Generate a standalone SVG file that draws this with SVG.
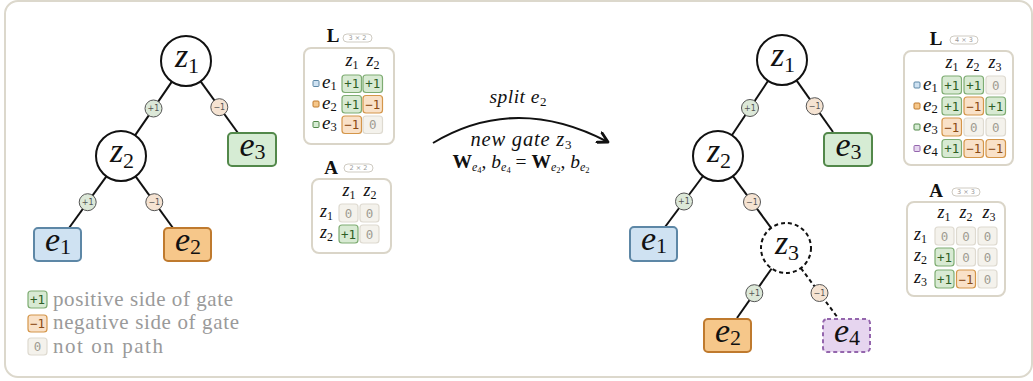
<svg xmlns="http://www.w3.org/2000/svg" width="1033" height="381" viewBox="0 0 1033 381">
  <defs>
    <style>
      .frame { fill:#fff; stroke:#dcd8cc; stroke-width:2; }
      .edge { stroke:#111; stroke-width:2; fill:none; }
      .dash { stroke-dasharray:4 3; }
      .gate { fill:#fff; stroke:#111; stroke-width:2; }
      .gate.new { stroke-dasharray:4 3; }
      .leaf { stroke-width:2; }
      .e1 { fill:#cfe2f2; stroke:#5d87a6; }
      .e2 { fill:#f6c78a; stroke:#bf7a2e; }
      .e3 { fill:#d6ecd4; stroke:#52884a; }
      .e4 { fill:#e6d5ef; stroke:#9466ad; stroke-dasharray:4 3; }
      .math { font-style:italic; fill:#111; }
      .up { font-style:normal; }
      .bold { font-weight:bold; fill:#111; }
      .nodelbl { font-size:34px; }
      .sub { font-size:22px; font-style:normal; }
      .badge { stroke-width:1; }
      .bp { fill:#dce8d8; stroke:#555; }
      .bn { fill:#f5e3d2; stroke:#555; }
      .btxt { font-size:8px; fill:#555; text-anchor:middle; }
      .mbox { fill:#fff; stroke:#dad5c8; stroke-width:2; }
      .pill { fill:#fff; stroke:#cfcbc2; stroke-width:1; }
      .ptxt { font-size:6.5px; fill:#999; text-anchor:middle; }
      .cp { fill:#d8ead3; stroke:#7eac72; stroke-width:1.2; }
      .cn { fill:#f9e1c8; stroke:#d4964a; stroke-width:1.2; }
      .cz { fill:#f4f2ec; stroke:#dedad0; stroke-width:1.2; }
      .ct { font-size:12.5px; text-anchor:middle; }
      .tp { fill:#2e5e25; }
      .tn { fill:#8a4a14; }
      .tz { fill:#a09c92; }
      .hdr { font-size:18px; }
      .hsub { font-size:12px; font-style:normal; }
      .rlbl { font-size:19px; }
      .rsub { font-size:12.5px; font-style:normal; }
      .mk { stroke-width:1; }
      .legend { font-size:21px; fill:#9a9a9a; }
      .cap { font-size:19.5px; }
    </style>
    <marker id="chev" viewBox="0 0 12 12" refX="10" refY="6" markerWidth="13" markerHeight="13" markerUnits="userSpaceOnUse" orient="auto">
      <path d="M1,1 L10,6 L1,11" fill="none" stroke="#111" stroke-width="2.6" stroke-linecap="round" stroke-linejoin="round"/>
    </marker>
  </defs>

  <rect class="frame" x="5" y="1" width="1027" height="376" rx="13"/>

  <!-- connectors -->
  <g id="connectors">
    <!-- tree before the split -->
    <line class="edge" x1="171.9" y1="81.6" x2="135.1" y2="135.4"/>
    <line class="edge" x1="200.6" y1="81.3" x2="238" y2="133"/>
    <line class="edge" x1="106.4" y1="176.3" x2="69" y2="228"/>
    <line class="edge" x1="135.6" y1="176.3" x2="173" y2="228"/>
    <!-- tree after the split -->
    <line class="edge" x1="768.1" y1="80.8" x2="731.9" y2="135.2"/>
    <line class="edge" x1="796.5" y1="80.4" x2="833" y2="132"/>
    <line class="edge" x1="703" y1="176" x2="665" y2="227"/>
    <line class="edge" x1="732.9" y1="176.1" x2="771.1" y2="227.9"/>
    <line class="edge" x1="771.7" y1="268.5" x2="737" y2="318"/>
    <line class="edge dash" x1="800.9" y1="268.1" x2="838" y2="318"/>
    <!-- split arrow -->
    <path class="edge" d="M433,143 Q515.5,93.5 608,142" stroke-width="3" marker-end="url(#chev)"/>

    <!-- edge side badges -->
    <g class="badges" font-family="DejaVu Sans, sans-serif">
      <circle class="badge bp" cx="153.5" cy="108.5" r="8.5"/><text class="btxt" x="153.5" y="111.3">+1</text>
      <circle class="badge bn" cx="219.3" cy="107.2" r="8.5"/><text class="btxt" x="219.3" y="110">−1</text>
      <circle class="badge bp" cx="87.7" cy="202.2" r="8.5"/><text class="btxt" x="87.7" y="205">+1</text>
      <circle class="badge bn" cx="154.3" cy="202.2" r="8.5"/><text class="btxt" x="154.3" y="205">−1</text>

      <circle class="badge bp" cx="750" cy="108" r="8.5"/><text class="btxt" x="750" y="110.8">+1</text>
      <circle class="badge bn" cx="814.7" cy="106.2" r="8.5"/><text class="btxt" x="814.7" y="109">−1</text>
      <circle class="badge bp" cx="684" cy="201.5" r="8.5"/><text class="btxt" x="684" y="204.3">+1</text>
      <circle class="badge bn" cx="752" cy="202" r="8.5"/><text class="btxt" x="752" y="204.8">−1</text>
      <circle class="badge bp" cx="754.3" cy="293.2" r="8.5"/><text class="btxt" x="754.3" y="296">+1</text>
      <circle class="badge bn" cx="819.5" cy="293" r="8.5"/><text class="btxt" x="819.5" y="295.8">−1</text>
    </g>
  </g>

  <!-- split caption -->
  <g id="split-caption" class="math cap" text-anchor="middle" font-family="Liberation Serif, DejaVu Serif, serif">
    <text x="518" y="103" textLength="57">split e<tspan class="up" font-size="13" dy="3">2</tspan></text>
    <text x="521" y="146" font-size="20.5" textLength="101">new gate z<tspan class="up" font-size="13" dy="2.5">3</tspan></text>
    <text x="521" y="168"><tspan class="up" font-weight="bold">W</tspan><tspan font-size="12" dy="3">e</tspan><tspan font-size="8.5" class="up" dy="1.5">4</tspan><tspan class="up" dy="-4.5">, </tspan>b<tspan font-size="12" dy="3">e</tspan><tspan font-size="8.5" class="up" dy="1.5">4</tspan><tspan class="up" dy="-4.5"> = </tspan><tspan class="up" font-weight="bold">W</tspan><tspan font-size="12" dy="3">e</tspan><tspan font-size="8.5" class="up" dy="1.5">2</tspan><tspan class="up" dy="-4.5">, </tspan>b<tspan font-size="12" dy="3">e</tspan><tspan font-size="8.5" class="up" dy="1.5">2</tspan></text>
  </g>

  <g font-family="Liberation Serif, DejaVu Serif, serif">
  <!-- ===== tree before the split ===== -->
  <g id="a-z1"><circle class="gate" cx="186" cy="61" r="25"/><text class="math nodelbl" x="187" y="67" text-anchor="middle">z<tspan class="sub" dy="6">1</tspan></text></g>
  <g id="a-z2"><circle class="gate" cx="121" cy="156" r="25"/><text class="math nodelbl" x="122" y="162" text-anchor="middle">z<tspan class="sub" dy="6">2</tspan></text></g>
  <g id="a-e1"><rect class="leaf e1" x="34" y="228" width="47" height="33" rx="4"/><text class="math nodelbl" x="58" y="251" text-anchor="middle">e<tspan class="sub" dy="3">1</tspan></text></g>
  <g id="a-e2"><rect class="leaf e2" x="164" y="228" width="47" height="33" rx="4"/><text class="math nodelbl" x="188" y="251" text-anchor="middle">e<tspan class="sub" dy="3">2</tspan></text></g>
  <g id="a-e3"><rect class="leaf e3" x="228" y="133" width="48" height="33" rx="4"/><text class="math nodelbl" x="252.5" y="156" text-anchor="middle">e<tspan class="sub" dy="3">3</tspan></text></g>

  <!-- ===== tree after the split ===== -->
  <g id="b-z1"><circle class="gate" cx="782" cy="60" r="25"/><text class="math nodelbl" x="783" y="66" text-anchor="middle">z<tspan class="sub" dy="6">1</tspan></text></g>
  <g id="b-z2"><circle class="gate" cx="718" cy="156" r="25"/><text class="math nodelbl" x="719" y="162" text-anchor="middle">z<tspan class="sub" dy="6">2</tspan></text></g>
  <g id="b-z3"><circle class="gate new" cx="786" cy="248" r="25"/><text class="math nodelbl" x="787" y="254" text-anchor="middle">z<tspan class="sub" dy="6">3</tspan></text></g>
  <g id="b-e1"><rect class="leaf e1" x="630" y="227" width="47" height="34" rx="4"/><text class="math nodelbl" x="654" y="250" text-anchor="middle">e<tspan class="sub" dy="3">1</tspan></text></g>
  <g id="b-e2"><rect class="leaf e2" x="704" y="319" width="47" height="33" rx="4"/><text class="math nodelbl" x="728" y="342" text-anchor="middle">e<tspan class="sub" dy="3">2</tspan></text></g>
  <g id="b-e3"><rect class="leaf e3" x="824" y="133" width="48" height="33" rx="4"/><text class="math nodelbl" x="848.5" y="156" text-anchor="middle">e<tspan class="sub" dy="3">3</tspan></text></g>
  <g id="b-e4"><rect class="leaf e4" x="823" y="319" width="47" height="33" rx="4"/><text class="math nodelbl" x="847" y="342" text-anchor="middle">e<tspan class="sub" dy="3">4</tspan></text></g>
  </g>

  <!-- ===== L matrix (3x2) ===== -->
  <g id="mat-L-before" font-family="Liberation Serif, DejaVu Serif, serif">
    <text class="bold" x="333" y="42" font-size="19" text-anchor="middle">L</text>
    <rect class="pill" x="343" y="34" width="29" height="8" rx="4"/><text class="ptxt" x="357.5" y="40.3" font-family="DejaVu Sans, sans-serif">3 × 2</text>
    <rect class="mbox" x="304" y="48" width="90" height="96" rx="7"/>
    <text class="math hdr" x="352" y="66" text-anchor="middle">z<tspan class="hsub" dy="2.5">1</tspan></text>
    <text class="math hdr" x="373" y="66" text-anchor="middle">z<tspan class="hsub" dy="2.5">2</tspan></text>
    <rect class="mk e1" x="313" y="80.5" width="6" height="6" rx="1"/>
    <rect class="mk e2" x="313" y="101" width="6" height="6" rx="1"/>
    <rect class="mk e3" x="313" y="121.5" width="6" height="6" rx="1"/>
    <text class="math rlbl" x="322" y="88">e<tspan class="rsub" dy="2">1</tspan></text>
    <text class="math rlbl" x="322" y="108.5">e<tspan class="rsub" dy="2">2</tspan></text>
    <text class="math rlbl" x="322" y="129">e<tspan class="rsub" dy="2">3</tspan></text>
    <g font-family="DejaVu Sans Mono, Liberation Mono, monospace">
    <rect class="cp" x="342" y="75" width="19.5" height="17.5" rx="3"/><text class="ct tp" x="351.7" y="88.2">+1</text>
    <rect class="cp" x="363" y="75" width="19.5" height="17.5" rx="3"/><text class="ct tp" x="372.7" y="88.2">+1</text>
    <rect class="cp" x="342" y="95.5" width="19.5" height="17.5" rx="3"/><text class="ct tp" x="351.7" y="108.7">+1</text>
    <rect class="cn" x="363" y="95.5" width="19.5" height="17.5" rx="3"/><text class="ct tn" x="372.7" y="108.7">−1</text>
    <rect class="cn" x="342" y="116" width="19.5" height="17.5" rx="3"/><text class="ct tn" x="351.7" y="129.2">−1</text>
    <rect class="cz" x="363" y="116" width="19.5" height="17.5" rx="3"/><text class="ct tz" x="372.7" y="129.2">0</text>
    </g>
  </g>

  <!-- ===== A matrix (2x2) ===== -->
  <g id="mat-A-before" font-family="Liberation Serif, DejaVu Serif, serif">
    <text class="bold" x="331" y="174" font-size="19" text-anchor="middle">A</text>
    <rect class="pill" x="344" y="164" width="29" height="8" rx="4"/><text class="ptxt" x="358.5" y="170.3" font-family="DejaVu Sans, sans-serif">2 × 2</text>
    <rect class="mbox" x="312" y="179" width="79" height="74" rx="7"/>
    <text class="math hdr" x="349" y="196" text-anchor="middle">z<tspan class="hsub" dy="2.5">1</tspan></text>
    <text class="math hdr" x="370" y="196" text-anchor="middle">z<tspan class="hsub" dy="2.5">2</tspan></text>
    <text class="math hdr" x="320" y="217">z<tspan class="hsub" dy="2.5">1</tspan></text>
    <text class="math hdr" x="320" y="238">z<tspan class="hsub" dy="2.5">2</tspan></text>
    <g font-family="DejaVu Sans Mono, Liberation Mono, monospace">
    <rect class="cz" x="339" y="204" width="19" height="18" rx="3"/><text class="ct tz" x="348.5" y="217.5">0</text>
    <rect class="cz" x="360" y="204" width="19" height="18" rx="3"/><text class="ct tz" x="369.5" y="217.5">0</text>
    <rect class="cp" x="339" y="225" width="19" height="18" rx="3"/><text class="ct tp" x="348.5" y="238.5">+1</text>
    <rect class="cz" x="360" y="225" width="19" height="18" rx="3"/><text class="ct tz" x="369.5" y="238.5">0</text>
    </g>
  </g>

  <!-- ===== L matrix (4x3) ===== -->
  <g id="mat-L-after" font-family="Liberation Serif, DejaVu Serif, serif">
    <text class="bold" x="936" y="45" font-size="19" text-anchor="middle">L</text>
    <rect class="pill" x="950" y="36" width="28" height="8" rx="4"/><text class="ptxt" x="964" y="42.3" font-family="DejaVu Sans, sans-serif">4 × 3</text>
    <rect class="mbox" x="904" y="51" width="109" height="114" rx="7"/>
    <text class="math hdr" x="952" y="68" text-anchor="middle">z<tspan class="hsub" dy="2.5">1</tspan></text>
    <text class="math hdr" x="973" y="68" text-anchor="middle">z<tspan class="hsub" dy="2.5">2</tspan></text>
    <text class="math hdr" x="995" y="68" text-anchor="middle">z<tspan class="hsub" dy="2.5">3</tspan></text>
    <rect class="mk e1" x="914" y="82" width="6" height="6" rx="1"/>
    <rect class="mk e2" x="914" y="103" width="6" height="6" rx="1"/>
    <rect class="mk e3" x="914" y="124" width="6" height="6" rx="1"/>
    <rect class="mk e4" x="914" y="145.5" width="6" height="6" rx="1" style="stroke-dasharray:none"/>
    <text class="math rlbl" x="923" y="90">e<tspan class="rsub" dy="2">1</tspan></text>
    <text class="math rlbl" x="923" y="111">e<tspan class="rsub" dy="2">2</tspan></text>
    <text class="math rlbl" x="923" y="132">e<tspan class="rsub" dy="2">3</tspan></text>
    <text class="math rlbl" x="923" y="153.5">e<tspan class="rsub" dy="2">4</tspan></text>
    <g font-family="DejaVu Sans Mono, Liberation Mono, monospace">
    <rect class="cp" x="942" y="76" width="19.5" height="18" rx="3"/><text class="ct tp" x="951.7" y="89.5">+1</text>
    <rect class="cp" x="964" y="76" width="19.5" height="18" rx="3"/><text class="ct tp" x="973.7" y="89.5">+1</text>
    <rect class="cz" x="986" y="76" width="19.5" height="18" rx="3"/><text class="ct tz" x="995.7" y="89.5">0</text>
    <rect class="cp" x="942" y="97" width="19.5" height="18" rx="3"/><text class="ct tp" x="951.7" y="110.5">+1</text>
    <rect class="cn" x="964" y="97" width="19.5" height="18" rx="3"/><text class="ct tn" x="973.7" y="110.5">−1</text>
    <rect class="cp" x="986" y="97" width="19.5" height="18" rx="3"/><text class="ct tp" x="995.7" y="110.5">+1</text>
    <rect class="cn" x="942" y="118" width="19.5" height="18" rx="3"/><text class="ct tn" x="951.7" y="131.5">−1</text>
    <rect class="cz" x="964" y="118" width="19.5" height="18" rx="3"/><text class="ct tz" x="973.7" y="131.5">0</text>
    <rect class="cz" x="986" y="118" width="19.5" height="18" rx="3"/><text class="ct tz" x="995.7" y="131.5">0</text>
    <rect class="cp" x="942" y="139.5" width="19.5" height="18" rx="3"/><text class="ct tp" x="951.7" y="153">+1</text>
    <rect class="cn" x="964" y="139.5" width="19.5" height="18" rx="3"/><text class="ct tn" x="973.7" y="153">−1</text>
    <rect class="cn" x="986" y="139.5" width="19.5" height="18" rx="3"/><text class="ct tn" x="995.7" y="153">−1</text>
    </g>
  </g>

  <!-- ===== A matrix (3x3) ===== -->
  <g id="mat-A-after" font-family="Liberation Serif, DejaVu Serif, serif">
    <text class="bold" x="936" y="197" font-size="19" text-anchor="middle">A</text>
    <rect class="pill" x="952" y="188" width="28" height="8" rx="4"/><text class="ptxt" x="966" y="194.3" font-family="DejaVu Sans, sans-serif">3 × 3</text>
    <rect class="mbox" x="907" y="202" width="98" height="94" rx="7"/>
    <text class="math hdr" x="944" y="218" text-anchor="middle">z<tspan class="hsub" dy="2.5">1</tspan></text>
    <text class="math hdr" x="966" y="218" text-anchor="middle">z<tspan class="hsub" dy="2.5">2</tspan></text>
    <text class="math hdr" x="989" y="218" text-anchor="middle">z<tspan class="hsub" dy="2.5">3</tspan></text>
    <text class="math hdr" x="914" y="240">z<tspan class="hsub" dy="2.5">1</tspan></text>
    <text class="math hdr" x="914" y="261">z<tspan class="hsub" dy="2.5">2</tspan></text>
    <text class="math hdr" x="914" y="283">z<tspan class="hsub" dy="2.5">3</tspan></text>
    <g font-family="DejaVu Sans Mono, Liberation Mono, monospace">
    <rect class="cz" x="935" y="227" width="19" height="18" rx="3"/><text class="ct tz" x="944.5" y="240.5">0</text>
    <rect class="cz" x="956.5" y="227" width="19" height="18" rx="3"/><text class="ct tz" x="966" y="240.5">0</text>
    <rect class="cz" x="978" y="227" width="19" height="18" rx="3"/><text class="ct tz" x="987.5" y="240.5">0</text>
    <rect class="cp" x="935" y="248" width="19" height="18" rx="3"/><text class="ct tp" x="944.5" y="261.5">+1</text>
    <rect class="cz" x="956.5" y="248" width="19" height="18" rx="3"/><text class="ct tz" x="966" y="261.5">0</text>
    <rect class="cz" x="978" y="248" width="19" height="18" rx="3"/><text class="ct tz" x="987.5" y="261.5">0</text>
    <rect class="cp" x="935" y="270" width="19" height="18" rx="3"/><text class="ct tp" x="944.5" y="283.5">+1</text>
    <rect class="cn" x="956.5" y="270" width="19" height="18" rx="3"/><text class="ct tn" x="966" y="283.5">−1</text>
    <rect class="cz" x="978" y="270" width="19" height="18" rx="3"/><text class="ct tz" x="987.5" y="283.5">0</text>
    </g>
  </g>

  <!-- ===== legend ===== -->
  <g id="legend">
    <g font-family="DejaVu Sans Mono, Liberation Mono, monospace">
    <rect class="cp" x="28" y="291" width="19" height="17" rx="3"/><text class="ct tp" x="37.5" y="304">+1</text>
    <rect class="cn" x="28" y="315" width="19" height="17" rx="3"/><text class="ct tn" x="37.5" y="328">−1</text>
    <rect class="cz" x="28" y="338" width="19" height="17" rx="3"/><text class="ct tz" x="37.5" y="351">0</text>
    </g>
    <g font-family="Liberation Serif, DejaVu Serif, serif">
    <text class="legend" x="53" y="306" textLength="180">positive side of gate</text>
    <text class="legend" x="53" y="329" textLength="186">negative side of gate</text>
    <text class="legend" x="53" y="353" textLength="110">not on path</text>
    </g>
  </g>
</svg>
